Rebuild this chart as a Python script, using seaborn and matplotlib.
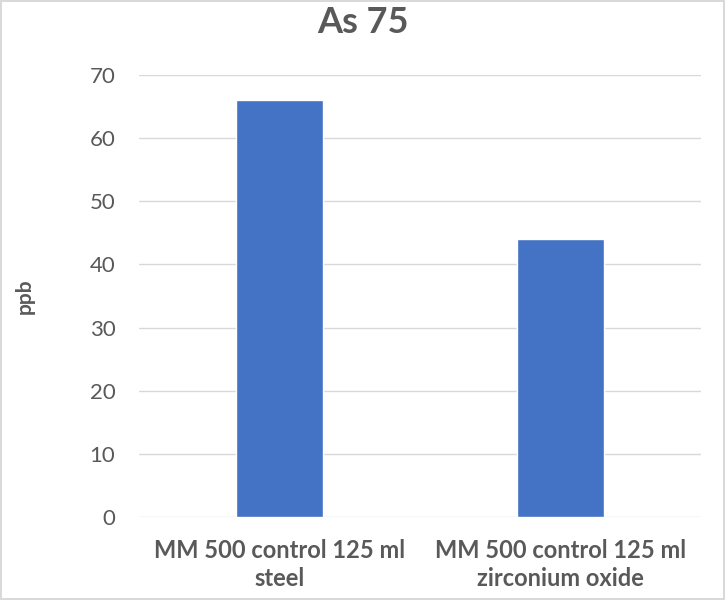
import pandas as pd
import seaborn as sns
import matplotlib.pyplot as plt

categories = ['MM 500 control 125 ml\nsteel', 'MM 500 control 125 ml\nzirconium oxide']
values = [66, 44]

data = pd.DataFrame({'sample': categories, 'ppb': values})

sns.set_style('white')
plt.rcParams['font.family'] = ['Lato', 'DejaVu Sans']

fig = plt.figure(figsize=(7.25, 6), dpi=100)
fig.patch.set_edgecolor('#d9d9d9')
fig.patch.set_linewidth(1.5)
ax = fig.add_axes([139 / 725, 1 - 517 / 600, 562 / 725, 442 / 600])

sns.barplot(x='sample', y='ppb', data=data, color='#4472C4', width=0.31,
            saturation=1, ax=ax, zorder=3)

ax.set_ylim(0, 70)
ax.set_yticks(range(0, 71, 10))
ax.grid(axis='y', color='#d9d9d9', linewidth=1, zorder=0)
for s in ax.spines.values():
    s.set_visible(False)
ax.tick_params(axis='both', length=0, colors='#595959', labelsize=16)
ax.tick_params(axis='y', pad=17)
ax.tick_params(axis='x', pad=16)
for lab in ax.get_xticklabels():
    lab.set_fontweight('bold')
    lab.set_fontsize(17)
    lab.set_linespacing(1.25)

ax.set_xlabel('')
ax.set_ylabel('ppb', fontsize=15, fontweight='bold', color='#595959', labelpad=0)
ax.yaxis.set_label_coords(-(139 - 35) / 562, 0.5)
fig.suptitle('As 75', fontsize=26, fontweight='bold', color='#595959', y=0.99)

fig.savefig('out.png', dpi=100)
